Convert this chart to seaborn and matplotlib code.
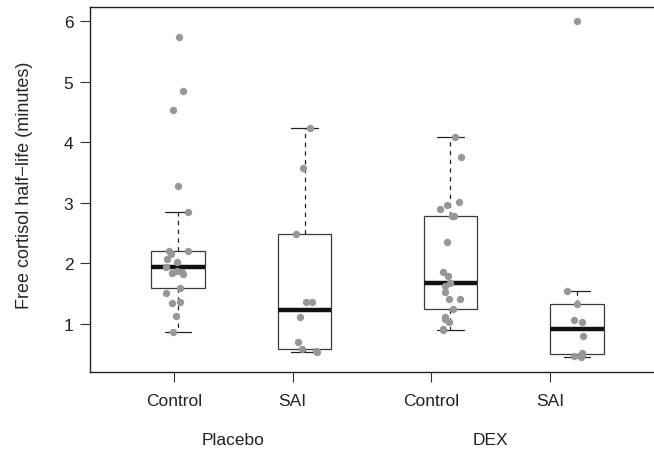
import numpy as np
import pandas as pd
import matplotlib
matplotlib.use("Agg")
import matplotlib.pyplot as plt
import seaborn as sns

# ---- data ----
treatments = ["Placebo", "Placebo", "DEX", "DEX"]
groups = ["Control", "SAI", "Control", "SAI"]
placebo_control = [5.74, 4.84, 4.54, 3.28, 2.85, 2.21, 2.21, 2.15, 2.07, 2.02,
                   1.94, 1.87, 1.86, 1.84, 1.83, 1.59, 1.51, 1.37, 1.34, 1.13, 0.87]
placebo_sai = [4.23, 3.58, 2.49, 1.36, 1.36, 1.11, 0.70, 0.58, 0.55, 0.54]
dex_control = [4.09, 3.75, 3.01, 2.97, 2.89, 2.79, 2.79, 2.36, 1.86, 1.80, 1.67,
               1.62, 1.53, 1.42, 1.41, 1.24, 1.12, 1.09, 1.04, 0.92, 0.90]
dex_sai = [6.00, 1.54, 1.33, 1.07, 1.03, 0.81, 0.52, 0.50, 0.47, 0.45]
series = [placebo_control, placebo_sai, dex_control, dex_sai]
y_ticks = [1, 2, 3, 4, 5, 6]
y_label = "Free cortisol half\u2212life (minutes)"

# ---- layout ----
box_pos = [1.0, 2.0, 3.15, 4.15]
tick_pos = [0.968, 1.905, 2.997, 3.936]
group_label_pos = [(tick_pos[0] + tick_pos[1]) / 2, (tick_pos[2] + tick_pos[3]) / 2]
group_label_text = ["Placebo", "DEX"]

sns.set_style("ticks")
plt.rcParams["font.family"] = ["Liberation Sans", "DejaVu Sans"]

fig = plt.figure(figsize=(6.54, 4.52), dpi=100)
ax = fig.add_axes([90 / 654, 1 - 372.7 / 452, 1 - 90 / 654, (372.7 - 7.5) / 452])

rows = []
for p, vals in zip(box_pos, series):
    for v in vals:
        rows.append({"pos": p, "value": v})
df = pd.DataFrame(rows)


def tukey_stats(vals):
    x = np.sort(np.asarray(vals, dtype=float))
    n = len(x)
    n4 = np.floor((n + 3) / 2) / 2
    d = np.array([1, n4, (n + 1) / 2, n + 1 - n4, n])
    fn = 0.5 * (x[np.floor(d).astype(int) - 1] + x[np.ceil(d).astype(int) - 1])
    iqr = fn[3] - fn[1]
    lo = x[x >= fn[1] - 1.5 * iqr].min()
    hi = x[x <= fn[3] + 1.5 * iqr].max()
    return dict(med=fn[2], q1=fn[1], q3=fn[3], whislo=lo, whishi=hi, fliers=[])


stats = [tukey_stats(v) for v in series]
ax.bxp(stats, positions=box_pos, widths=0.42, patch_artist=True,
       showfliers=False, manage_ticks=False,
       boxprops=dict(facecolor="white", edgecolor="#3a3a3a", linewidth=0.9),
       medianprops=dict(color="#111111", linewidth=3.2, solid_capstyle="butt"),
       whiskerprops=dict(color="#222222", linewidth=0.9, linestyle=(0, (3.5, 3.5))),
       capprops=dict(color="#222222", linewidth=0.9))

np.random.seed(3)
sns.stripplot(data=df, x="pos", y="value", native_scale=True, jitter=0.1,
              color="#979797", size=5.3, linewidth=0, ax=ax, zorder=3)

ax.set_xlim(0.305, 4.757)
ax.set_ylim(0.213, 6.24)
ax.set_yticks(y_ticks)
ax.set_yticklabels([str(t) for t in y_ticks])
ax.set_xticks(tick_pos)
ax.set_xticklabels(groups)
ax.set_xlabel("")
ax.set_ylabel(y_label, fontsize=13)
ax.yaxis.set_label_coords(-0.101, 0.514)
ax.tick_params(axis="both", labelsize=12.5, length=7, width=0.8, color="#333333",
               labelcolor="#222222")
ax.tick_params(axis="x", pad=8)
ax.tick_params(axis="y", pad=5)
for s in ["left", "top", "bottom"]:
    ax.spines[s].set_visible(True)
    ax.spines[s].set_color("#222222")
    ax.spines[s].set_linewidth(1.0)
ax.spines["right"].set_visible(False)

for xp, t in zip(group_label_pos, group_label_text):
    ax.text(xp, -0.185, t, transform=ax.get_xaxis_transform(), ha="center",
            va="center", fontsize=12.5, color="#222222")

fig.savefig("out.png", dpi=100)
